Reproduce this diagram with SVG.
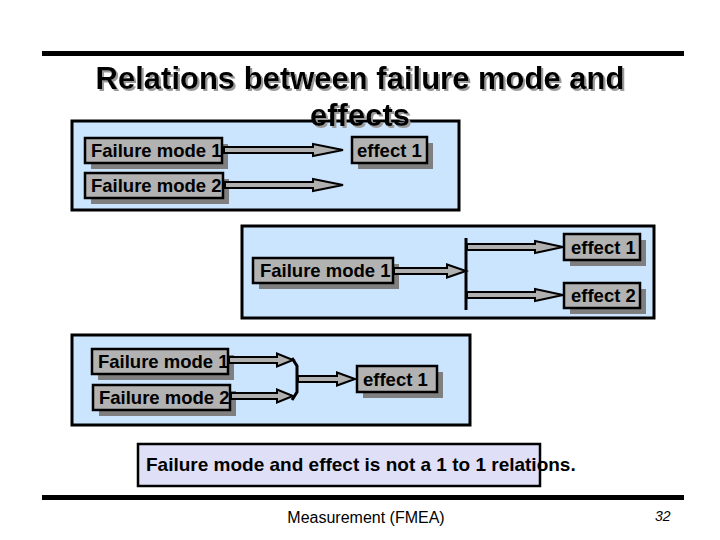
<svg xmlns="http://www.w3.org/2000/svg" width="720" height="540" viewBox="0 0 720 540">
<defs>
<filter id="tshadow" x="-5%" y="-20%" width="110%" height="140%">
<feOffset in="SourceAlpha" dx="2" dy="2" result="o"/>
<feFlood flood-color="#9a9a9a"/>
<feComposite in2="o" operator="in" result="s"/>
<feMerge><feMergeNode in="s"/><feMergeNode in="SourceGraphic"/></feMerge>
</filter>
</defs>
<style>
.panel{fill:#cce5ff;stroke:#000;stroke-width:3}
.box{fill:#b2b2b2;stroke:#000;stroke-width:2.5}
.shadow{fill:#7f7f7f}
.lbl{font-family:"Liberation Sans",Arial,sans-serif;font-size:18.5px;font-weight:bold;fill:#000}
.arr{fill:#b0b0b0;stroke:#000;stroke-width:2;stroke-linejoin:miter}
.bar{fill:none;stroke:#000;stroke-width:3}
.title{font-family:"Liberation Sans",Arial,sans-serif;font-size:31px;font-weight:bold;text-anchor:middle;fill:#000}
</style>
<rect x="0" y="0" width="720" height="540" fill="#fff"/>
<rect x="42" y="51" width="642" height="5" fill="#000"/>
<rect x="42" y="495" width="642" height="5" fill="#000"/>

<g id="panel1">
<rect class="panel" x="72" y="121" width="387" height="89"/>
</g>
<g id="panel2">
<rect class="panel" x="242" y="226" width="412" height="92"/>
</g>
<g id="panel3">
<rect class="panel" x="72" y="335" width="398" height="90"/>
</g>

<g id="title" filter="url(#tshadow)">
<text class="title" x="360" y="89">Relations between failure mode and</text>
<text class="title" x="360" y="126">effects</text>
</g>

<g id="p1-fm1">
<rect class="shadow" x="91" y="144" width="137" height="25"/>
<rect class="box" x="85" y="138" width="137" height="25"/>
<text class="lbl" x="91" y="157">Failure mode 1</text>
</g>
<g id="p1-fm2">
<rect class="shadow" x="91" y="179" width="138" height="25"/>
<rect class="box" x="85" y="173" width="138" height="25"/>
<text class="lbl" x="91" y="192">Failure mode 2</text>
</g>
<g id="p1-eff1">
<rect class="shadow" x="358" y="143" width="75" height="26"/>
<rect class="box" x="352" y="137" width="75" height="26"/>
<text class="lbl" x="357" y="156.5">effect 1</text>
</g>

<g id="p2-fm1">
<rect class="shadow" x="259" y="264" width="140" height="25"/>
<rect class="box" x="253" y="258" width="140" height="25"/>
<text class="lbl" x="260" y="277">Failure mode 1</text>
</g>
<g id="p2-eff1">
<rect class="shadow" x="570" y="240" width="76" height="26"/>
<rect class="box" x="564" y="234" width="76" height="26"/>
<text class="lbl" x="571" y="253.5">effect 1</text>
</g>
<g id="p2-eff2">
<rect class="shadow" x="570" y="289" width="76" height="25"/>
<rect class="box" x="564" y="283" width="76" height="25"/>
<text class="lbl" x="571" y="302">effect 2</text>
</g>

<g id="p3-fm1">
<rect class="shadow" x="98" y="355" width="136" height="25"/>
<rect class="box" x="92" y="349" width="136" height="25"/>
<text class="lbl" x="98" y="368">Failure mode 1</text>
</g>
<g id="p3-fm2">
<rect class="shadow" x="99" y="391" width="137" height="25"/>
<rect class="box" x="93" y="385" width="137" height="25"/>
<text class="lbl" x="99" y="404">Failure mode 2</text>
</g>
<g id="p3-eff1">
<rect class="shadow" x="363" y="372" width="80" height="26"/>
<rect class="box" x="357" y="366" width="80" height="26"/>
<text class="lbl" x="363" y="385.5">effect 1</text>
</g>

<g id="connectors">
<path class="arr" d="M224,147 L313,147 L313,144 L343,150 L313,156 L313,153 L224,153 Z"/>
<path class="arr" d="M225,182 L313,182 L313,179 L343,185 L313,191 L313,188 L225,188 Z"/>
<path class="arr" d="M394,268 L447,268 L447,264.5 L466,271 L447,277.5 L447,274 L394,274 Z"/>
<path class="arr" d="M467,244 L535,244 L535,241 L563,247 L535,253 L535,250 L467,250 Z"/>
<path class="arr" d="M467,292 L535,292 L535,289 L563,295 L535,301 L535,298 L467,298 Z"/>
<line class="bar" x1="466" y1="238" x2="466" y2="310"/>
<path class="arr" d="M229,357 L277,357 L277,353.5 L293,360 L277,366.5 L277,363 L229,363 Z"/>
<path class="arr" d="M231,393 L277,393 L277,389.5 L293,396 L277,402.5 L277,399 L231,399 Z"/>
<path class="bar" d="M292,358 L297,366 L297,392 L292,400"/>
<path class="arr" d="M298,376 L337,376 L337,372.5 L355,379 L337,385.5 L337,382 L298,382 Z"/>
</g>

<g id="note">
<rect x="138" y="444" width="402" height="42" fill="#dfdff7" stroke="#000" stroke-width="2.5"/>
<text x="146" y="471" font-family="'Liberation Sans',Arial,sans-serif" font-size="19" font-weight="bold" fill="#000">Failure mode and effect is not a 1 to 1 relations.</text>
</g>

<g id="footer">
<text x="366" y="523" font-family="'Liberation Sans',Arial,sans-serif" font-size="16" text-anchor="middle" fill="#000">Measurement (FMEA)</text>
<text x="655" y="521" font-family="'Liberation Sans',Arial,sans-serif" font-size="14" font-style="italic" fill="#000">32</text>
</g>
</svg>
